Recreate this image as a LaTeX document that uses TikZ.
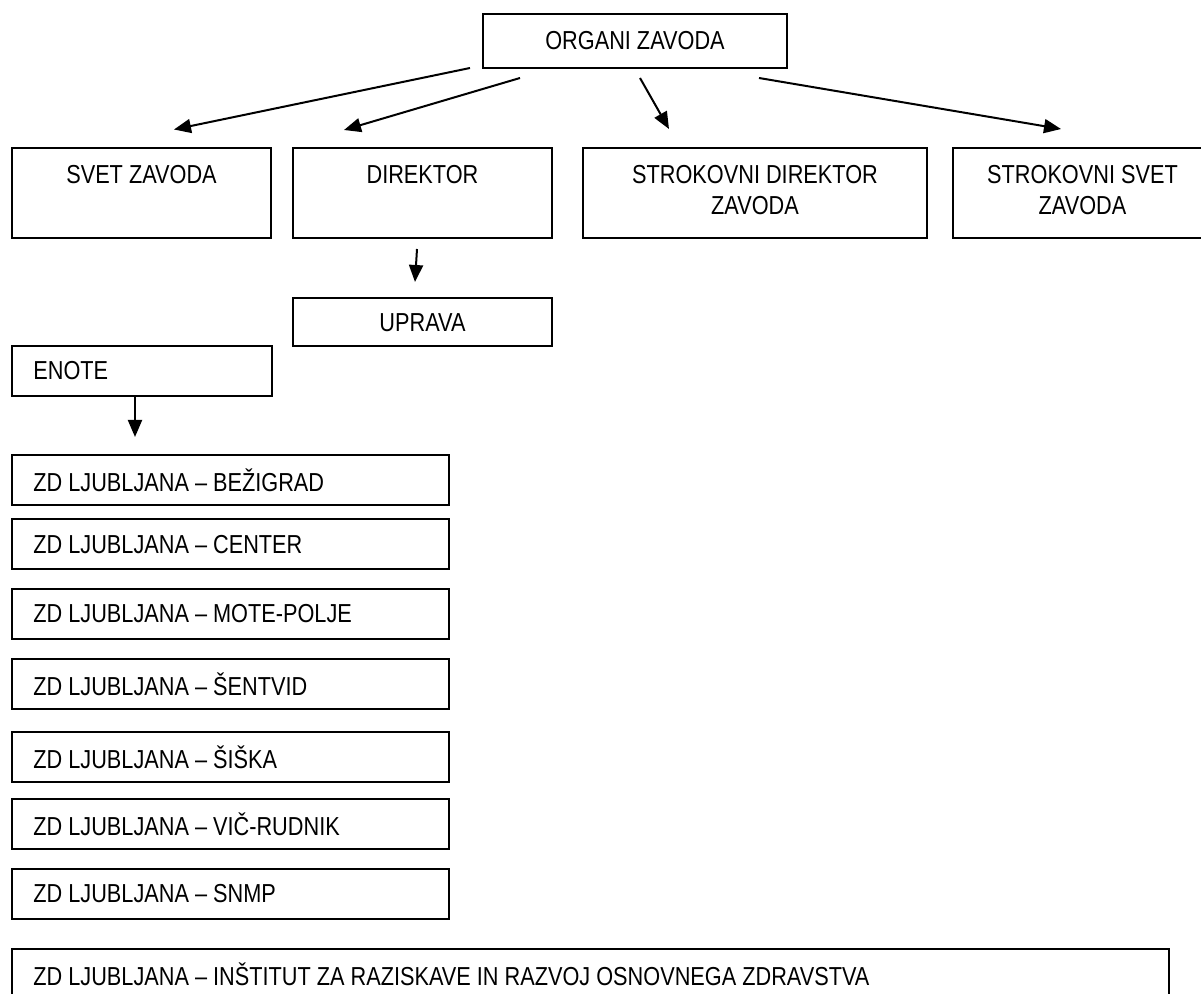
\documentclass[tikz,border=0pt]{standalone}
\usepackage{fontspec}
\setmainfont{Liberation Sans}[FakeStretch=0.835]
\usetikzlibrary{arrows.meta}
\begin{document}
\begin{tikzpicture}[x=0.5pt,y=-0.5pt,
  box/.style={draw=black, line width=1pt, rectangle, inner sep=0pt, minimum height=25pt},
  topbox/.style={box, minimum width=129.5pt, minimum height=45pt},
  zdbox/.style={box, minimum width=218.5pt},
  lbl/.style={inner sep=0pt, font=\fontsize{13pt}{15.5pt}\selectfont, align=center},
  lbll/.style={inner sep=0pt, font=\fontsize{13pt}{15.5pt}\selectfont, anchor=west},
  arr/.style={line width=1pt, -{Triangle[length=8.5pt,width=7pt]}}]
\useasboundingbox (0,0) rectangle (1201,994);
\clip (0,0) rectangle (1201,994);
% top
\node[box, minimum width=152pt, minimum height=27pt] (organi) at (635,41) {};
\node[lbl] (organiT) at (635,41) {ORGANI ZAVODA};
\node[topbox] (svet) at (141.5,193) {};
\node[lbl] (svetT) at (141.5,175) {SVET ZAVODA};
\node[topbox] (direktor) at (422.5,193) {};
\node[lbl] (direktorT) at (422.5,175) {DIREKTOR};
\node[topbox, minimum width=172pt] (strokdir) at (755,193) {};
\node[lbl] (strokdirT) at (755,190) {STROKOVNI DIREKTOR\\ZAVODA};
\node[topbox] (stroksvet) at (1082.5,193) {};
\node[lbl] (stroksvetT) at (1082.5,190) {STROKOVNI SVET\\ZAVODA};
% uprava
\node[box, minimum width=129.5pt, minimum height=24pt] (uprava) at (422.5,322) {};
\node[lbl] (upravaT) at (422.5,323) {UPRAVA};
% enote
\node[box, minimum width=130pt, minimum height=25pt] (enote) at (142,371) {};
\node[lbll] (enoteT) at (33,371) {ENOTE};
% ZD boxes
\node[zdbox] (zd1) at (230.5,480.5) {};
\node[lbll] at (33,480.5) {ZD LJUBLJANA – BEŽIGRAD};
\node[zdbox] (zd2) at (230.5,544.5) {};
\node[lbll] at (33,544.5) {ZD LJUBLJANA – CENTER};
\node[zdbox] (zd3) at (230.5,614) {};
\node[lbll] at (33,614) {ZD LJUBLJANA – MOTE-POLJE};
\node[zdbox] (zd4) at (230.5,684.5) {};
\node[lbll] at (33,684.5) {ZD LJUBLJANA – ŠENTVID};
\node[zdbox] (zd5) at (230.5,757) {};
\node[lbll] at (33,757) {ZD LJUBLJANA – ŠIŠKA};
\node[zdbox] (zd6) at (230.5,824) {};
\node[lbll] at (33,824) {ZD LJUBLJANA – VIČ-RUDNIK};
\node[zdbox] (zd7) at (230.5,894) {};
\node[lbll] at (33,894) {ZD LJUBLJANA – SNMP};
\node[box, minimum width=578.5pt] (zd8) at (590.5,974) {};
\node[lbll] at (33,974) {ZD LJUBLJANA – INŠTITUT ZA RAZISKAVE IN RAZVOJ OSNOVNEGA ZDRAVSTVA};
% arrow endpoints
\coordinate (a1s) at (470,68);   \coordinate (a1e) at (174,129.5);
\coordinate (a2s) at (520,78);   \coordinate (a2e) at (344,130);
\coordinate (a3s) at (640,78);   \coordinate (a3e) at (669,129);
\coordinate (a4s) at (759,78);   \coordinate (a4e) at (1061,129);
\coordinate (a5s) at (417,249);  \coordinate (a5e) at (415,282);
\coordinate (a6s) at (135,396);  \coordinate (a6e) at (135,437);
\draw[arr] (a1s) -- (a1e);
\draw[arr] (a2s) -- (a2e);
\draw[arr] (a3s) -- (a3e);
\draw[arr] (a4s) -- (a4e);
\draw[arr] (a5s) -- (a5e);
\draw[arr] (a6s) -- (a6e);
\end{tikzpicture}
\end{document}
